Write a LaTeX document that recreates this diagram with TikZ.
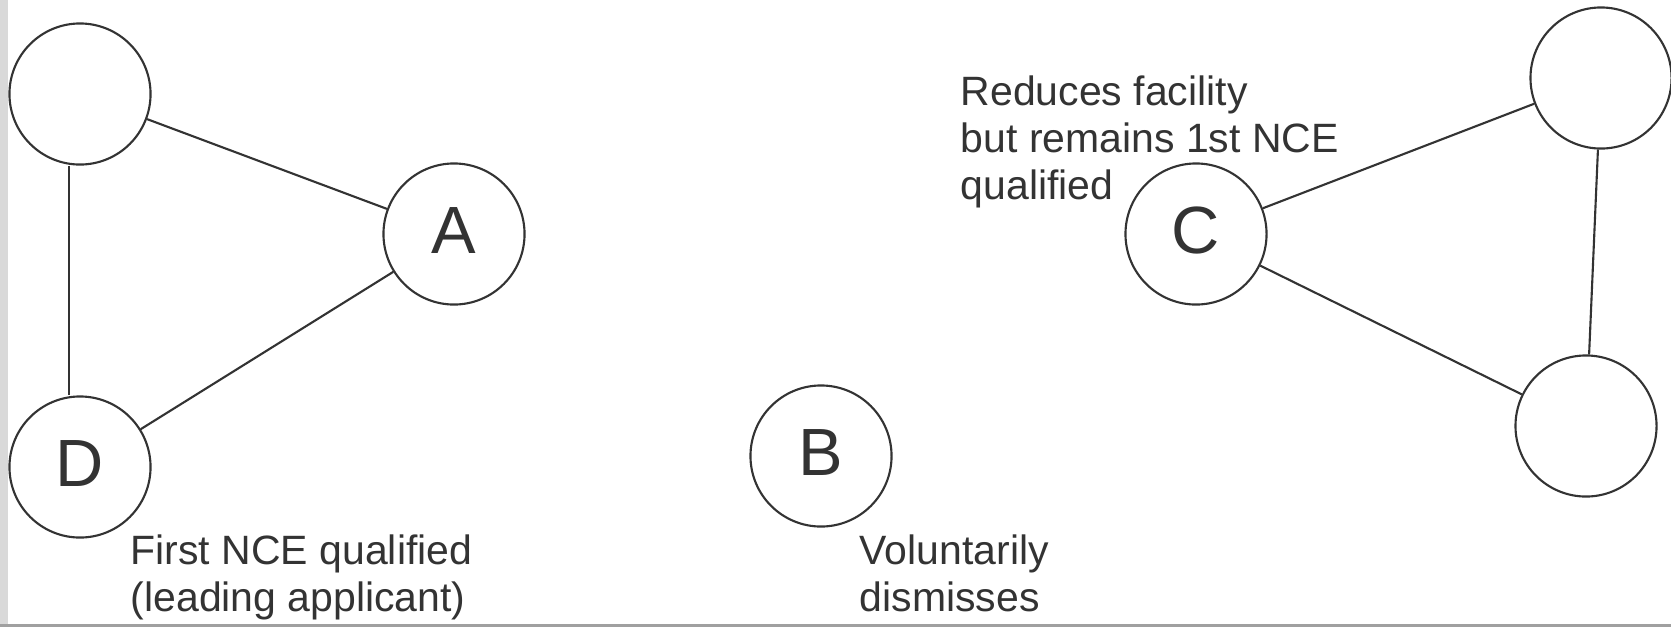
\documentclass[tikz,border=0pt]{standalone}
\usepackage{fontspec}
\setmainfont{Liberation Sans}
\usetikzlibrary{positioning}
\definecolor{inkcolor}{HTML}{333333}
\definecolor{stripcolor}{HTML}{D9D9D9}
\definecolor{framecolor}{HTML}{A0A0A0}
\tikzset{
  party/.style={draw=inkcolor,circle,line width=0.6pt,minimum size=1.41cm,inner sep=0pt,
                font=\fontsize{19}{19}\selectfont,text=inkcolor,
                text height=0.48cm,text depth=0.10cm},
  link/.style={draw=inkcolor,line width=0.6pt},
  remark/.style={anchor=base west,align=left,inner sep=0pt,text=inkcolor,
                 font=\fontsize{11.65}{13.35}\selectfont}
}

\begin{document}
\begin{tikzpicture}[x=0.01cm,y=-0.01cm]
    \useasboundingbox (0,0) rectangle (1671,627);
    \fill[stripcolor] (0,0) rectangle (8,627);
    \fill[framecolor] (0,624) rectangle (1671,627);
    % parties
    \foreach \n/\x/\y/\t in {nTL/80/94/{},nA/454/234/A,nD/80/467/D,nB/821/456/B,
                             nC/1196/234/C,nTR/1601/78/{},nBR/1586/426/{}} {
      \node[party] (\n) at (\x,\y) {\t};
    }
    % connections
    \draw[link] (nTL) -- (nA);
    \draw[link] (nD) -- (nA);
    \draw[link] ([xshift=-0.11cm]nTL.south) -- ([xshift=-0.11cm]nD.north);
    \draw[link] (nC) -- (nTR);
    \draw[link] (nC) -- (nBR);
    \draw[link] (nTR) -- (nBR);
    % remarks (anchored at the baseline of the last line)
    \node[remark] (rD) at (130,611) {First NCE qualified\\(leading applicant)};
    \node[remark] (rB) at (859,611) {Voluntarily\\dismisses};
    \node[remark] (rC) at (960,199) {Reduces facility\\but remains 1st NCE\\qualified};
\end{tikzpicture}
\end{document}
